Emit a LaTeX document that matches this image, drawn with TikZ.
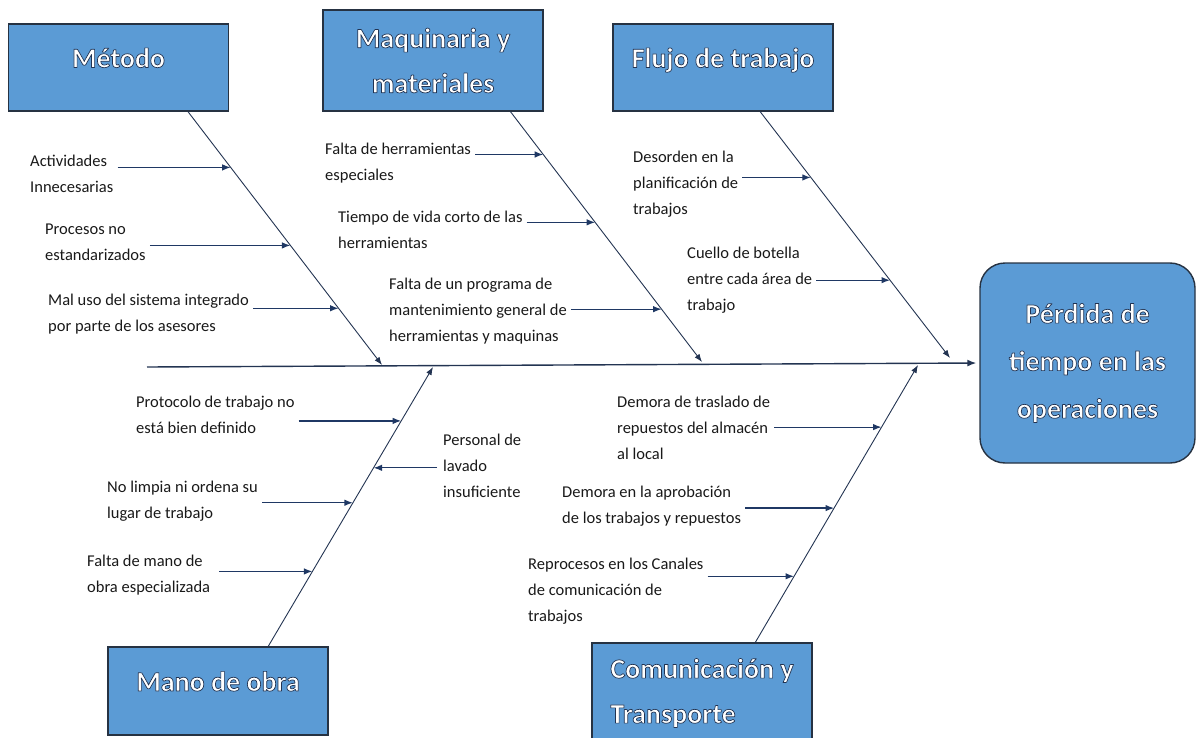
\documentclass[tikz,border=0pt]{standalone}
\usepackage{fontspec}
\setmainfont{Carlito}
\usetikzlibrary{arrows.meta,calc}

\definecolor{boxblue}{RGB}{91,155,213}
\definecolor{boxline}{RGB}{38,50,66}
\definecolor{boneline}{RGB}{35,52,82}
\definecolor{arrowc}{RGB}{31,56,100}
\definecolor{causetext}{RGB}{25,25,25}

% white heading text with a dark outline (fill + stroke render mode)
\newcommand{\glow}[1]{\special{pdf:literal direct 0.13 0.2 0.32 RG 0.7 w 1 j 2 Tr}#1\special{pdf:literal direct 0 Tr}}

\tikzset{
  headbox/.style={draw=boxline, line width=1.4pt, fill=boxblue, minimum width=220pt,
    inner sep=0pt, align=center, text=white, font=\bfseries\fontsize{28}{45}\selectfont},
  titleup/.style={text height=21pt, text depth=21pt},
  cause/.style={anchor=north west, inner sep=0pt, align=left, text=causetext,
    font=\fontsize{16.5}{26}\selectfont},
  bone/.style={draw=boneline, line width=0.9pt, -{Latex[length=8pt,width=6pt]}},
  causearrow/.style={draw=arrowc, line width=1.2pt, -{Latex[length=8.5pt,width=6.5pt]}, shorten <=4pt},
  spine/.style={draw=boneline, line width=1.4pt, -{Latex[length=9pt,width=7pt]}, shorten >=3pt}
}

\begin{document}
\begin{tikzpicture}[x=1pt, y=-1pt]
\useasboundingbox (0,0) rectangle (1196,738);

% categories
\node[headbox, titleup, minimum height=87pt] (metodo) at (118.5,67.5) {\glow{Método}};
\node[headbox, minimum height=101pt] (maquinaria) at (433,60.5) {\glow{Maquinaria y}\\\glow{materiales}};
\node[headbox, titleup, minimum height=87pt] (flujo) at (723,67.5) {\glow{Flujo de trabajo}};
\node[headbox, titleup, minimum height=88pt] (mano) at (218,691) {\glow{Mano de obra}};
\node[headbox, minimum height=100pt, align=left] (comunicacion) at (702,693) {\glow{Comunicación y}\\\glow{Transporte}};
\node[headbox, rounded corners=25pt, minimum width=215pt, minimum height=200pt,
  font=\bfseries\fontsize{28}{47.5}\selectfont] (efecto) at (1087.5,363)
  {\glow{Pérdida de}\\\glow{tiempo en las}\\\glow{operaciones}};

% spine
\coordinate (cola) at (147,367);
\draw[spine] (cola) -- (efecto.west);

% bones
\coordinate (metodoEnd) at (382,365);
\coordinate (maquinariaEnd) at (702,362);
\coordinate (flujoEnd) at (950,358);
\coordinate (manoEnd) at (433,367);
\coordinate (comunicacionEnd) at (918,365);

\draw[bone] ($(metodo.south west)!.814!(metodo.south east)$) --
  coordinate[pos=.220] (m1) coordinate[pos=.528] (m2) coordinate[pos=.776] (m3) (metodoEnd);
\draw[bone] ($(maquinaria.south west)!.85!(maquinaria.south east)$) --
  coordinate[pos=.171] (q1) coordinate[pos=.442] (q2) coordinate[pos=.789] (q3) (maquinariaEnd);
\draw[bone] ($(flujo.south west)!.668!(flujo.south east)$) --
  coordinate[pos=.267] (f1) coordinate[pos=.684] (f2) (flujoEnd);
\draw[bone] ($(mano.north west)!.727!(mano.north east)$) --
  coordinate[pos=.268] (o3) coordinate[pos=.514] (o2) coordinate[pos=.639] (o4) coordinate[pos=.807] (o1) (manoEnd);
\draw[bone] ($(comunicacion.north west)!.741!(comunicacion.north east)$) --
  coordinate[pos=.238] (c3) coordinate[pos=.484] (c2) coordinate[pos=.776] (c1) (comunicacionEnd);

% causes: Método
\node[cause] (actividades) at (30,155) {Actividades\\Innecesarias};
\node[cause] (procesos) at (45,224) {Procesos no\\estandarizados};
\node[cause] (maluso) at (48,294) {Mal uso del sistema integrado\\por parte de los asesores};
\draw[causearrow] (actividades.east |- m1) -- (m1);
\draw[causearrow] (procesos.east |- m2) -- (m2);
\draw[causearrow] (maluso.east |- m3) -- (m3);

% causes: Maquinaria y materiales
\node[cause] (faltaherr) at (325,143) {Falta de herramientas\\especiales};
\node[cause] (vidacorta) at (338,211) {Tiempo de vida corto de las\\herramientas};
\node[cause] (mantenimiento) at (389,278) {Falta de un programa de\\mantenimiento general de\\herramientas y maquinas};
\draw[causearrow] (faltaherr.east |- q1) -- (q1);
\draw[causearrow] (vidacorta.east |- q2) -- (q2);
\draw[causearrow] (mantenimiento.east |- q3) -- (q3);

% causes: Flujo de trabajo
\node[cause] (desorden) at (633,151) {Desorden en la\\planificación de\\trabajos};
\node[cause] (cuello) at (687,247) {Cuello de botella\\entre cada área de\\trabajo};
\draw[causearrow] (desorden.east |- f1) -- (f1);
\draw[causearrow] (cuello.east |- f2) -- (f2);

% causes: Mano de obra
\node[cause] (protocolo) at (136,396) {Protocolo de trabajo no\\está bien definido};
\node[cause] (limpieza) at (107,481) {No limpia ni ordena su\\lugar de trabajo};
\node[cause] (manoesp) at (87,555) {Falta de mano de\\obra especializada};
\node[cause] (lavado) at (443,434) {Personal de\\lavado\\insuficiente};
\draw[causearrow] (protocolo.east |- o1) -- (o1);
\draw[causearrow] (limpieza.east |- o2) -- (o2);
\draw[causearrow, shorten <=9pt] (manoesp.east |- o3) -- (o3);
\draw[causearrow, shorten <=6pt] (lavado.west |- o4) -- (o4);

% causes: Comunicación y Transporte
\node[cause] (traslado) at (617,396) {Demora de traslado de\\repuestos del almacén\\al local};
\node[cause] (aprobacion) at (562,486) {Demora en la aprobación\\de los trabajos y repuestos};
\node[cause] (reprocesos) at (528,558) {Reprocesos en los Canales\\de comunicación de\\trabajos};
\draw[causearrow] (traslado.east |- c1) -- (c1);
\draw[causearrow] (aprobacion.east |- c2) -- (c2);
\draw[causearrow] (reprocesos.east |- c3) -- (c3);
\end{tikzpicture}
\end{document}
